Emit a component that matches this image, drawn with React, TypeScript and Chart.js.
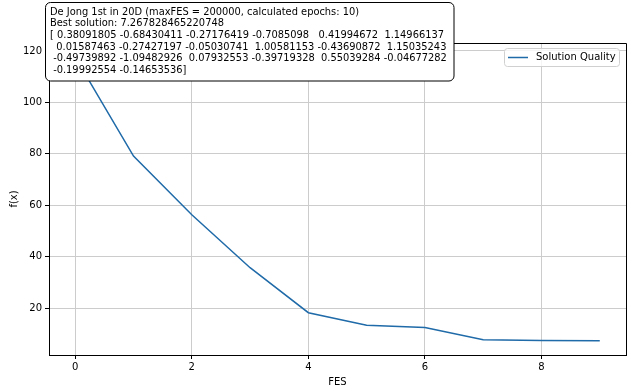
import React, { useEffect, useRef } from "react";
import { Chart, registerables } from "chart.js";

Chart.register(...registerables);

const fes = [0, 1, 2, 3, 4, 5, 6, 7, 8, 9];
const quality = [117.6, 79.1, 56.3, 35.7, 18.2, 13.3, 12.4, 7.7, 7.4, 7.267828465220748];
const xTicks = [0, 2, 4, 6, 8];
const yTicks = [20, 40, 60, 80, 100, 120];
const seriesLabel = "Solution Quality";
const xTitle = "FES";
const yTitle = "f(x)";
const infoLines = [
  "De Jong 1st in 20D (maxFES = 200000, calculated epochs: 10)",
  "Best solution: 7.267828465220748",
  "[ 0.38091805 -0.68430411 -0.27176419 -0.7085098   0.41994672  1.14966137",
  "  0.01587463 -0.27427197 -0.05030741  1.00581153 -0.43690872  1.15035243",
  " -0.49739892 -1.09482926  0.07932553 -0.39719328  0.55039284 -0.04677282",
  " -0.19992554 -0.14653536]",
];

const FONT = "DejaVu Sans";
const LINE_COLOR = "#1f6aa8";

function roundRect(ctx: CanvasRenderingContext2D, x: number, y: number, w: number, h: number, r: number) {
  ctx.beginPath();
  ctx.moveTo(x + r, y);
  ctx.lineTo(x + w - r, y);
  ctx.arcTo(x + w, y, x + w, y + r, r);
  ctx.lineTo(x + w, y + h - r);
  ctx.arcTo(x + w, y + h, x + w - r, y + h, r);
  ctx.lineTo(x + r, y + h);
  ctx.arcTo(x, y + h, x, y + h - r, r);
  ctx.lineTo(x, y + r);
  ctx.arcTo(x, y, x + r, y, r);
  ctx.closePath();
}

const decorPlugin = {
  id: "decor",
  afterDraw(chart: any) {
    const ctx: CanvasRenderingContext2D = chart.ctx;
    const { left, right, top, bottom } = chart.chartArea;
    ctx.save();
    // frame
    ctx.strokeStyle = "#000";
    ctx.lineWidth = 1;
    ctx.beginPath();
    ctx.moveTo(left, top + 0.5);
    ctx.lineTo(right + 0.5, top + 0.5);
    ctx.lineTo(right + 0.5, bottom);
    ctx.stroke();

    // legend
    const lx = right - 122;
    const ly = top + 5;
    roundRect(ctx, lx + 0.5, ly + 0.5, 115, 18, 3);
    ctx.fillStyle = "rgba(255,255,255,0.8)";
    ctx.fill();
    ctx.strokeStyle = "#d0d0d0";
    ctx.stroke();
    ctx.strokeStyle = LINE_COLOR;
    ctx.lineWidth = 1.5;
    ctx.beginPath();
    ctx.moveTo(lx + 4, ly + 9.5);
    ctx.lineTo(lx + 24, ly + 9.5);
    ctx.stroke();
    ctx.fillStyle = "#000";
    ctx.font = `10px "${FONT}"`;
    ctx.textBaseline = "middle";
    ctx.textAlign = "left";
    ctx.fillText(seriesLabel, lx + 32, ly + 9.5);

    // info box
    roundRect(ctx, 45.5, 2.5, 408.5, 78.5, 5);
    ctx.fillStyle = "#ffffff";
    ctx.fill();
    ctx.strokeStyle = "#000";
    ctx.lineWidth = 1;
    ctx.stroke();
    ctx.fillStyle = "#000";
    ctx.font = `9.87px "${FONT}"`;
    infoLines.forEach((line, i) => {
      ctx.fillText(line, 50, 12 + i * 11.67);
    });
    ctx.restore();
  },
};

export default function App() {
  const ref = useRef<HTMLCanvasElement | null>(null);
  useEffect(() => {
    document.body.style.margin = "0";
    const canvas = ref.current!;
    const chart = new Chart(canvas, {
      type: "line",
      data: {
        datasets: [
          {
            label: seriesLabel,
            data: fes.map((x, i) => ({ x, y: quality[i] })),
            borderColor: LINE_COLOR,
            borderWidth: 1.5,
            pointRadius: 0,
            tension: 0,
            fill: false,
          },
        ],
      },
      options: {
        animation: false,
        responsive: false,
        devicePixelRatio: 1,
        layout: { padding: { top: 43, right: 14, left: 0, bottom: 0 } },
        plugins: { legend: { display: false }, tooltip: { enabled: false } },
        scales: {
          x: {
            type: "linear",
            min: -0.45,
            max: 9.45,
            afterBuildTicks: (s: any) => {
              s.ticks = xTicks.map((v) => ({ value: v }));
            },
            afterFit: (s: any) => {
              s.height = 36;
            },
            grid: { color: "#cccccc", lineWidth: 1, tickColor: "#000", tickLength: 4 },
            border: { color: "#000", width: 1 },
            ticks: {
              color: "#000",
              font: { family: FONT, size: 10 },
              padding: 2,
              maxRotation: 0,
              callback: (v: any) => String(v),
            },
            title: {
              display: true,
              text: xTitle,
              color: "#000",
              font: { family: FONT, size: 10 },
              padding: { top: 3, bottom: 3 },
            },
          },
          y: {
            type: "linear",
            min: 1.75,
            max: 123.1,
            afterBuildTicks: (s: any) => {
              s.ticks = yTicks.map((v) => ({ value: v }));
            },
            afterFit: (s: any) => {
              s.width = 49;
            },
            grid: { color: "#cccccc", lineWidth: 1, tickColor: "#000", tickLength: 4 },
            border: { color: "#000", width: 1 },
            ticks: {
              color: "#000",
              font: { family: FONT, size: 10 },
              padding: 3,
              callback: (v: any) => String(v),
            },
            title: {
              display: true,
              text: yTitle,
              color: "#000",
              font: { family: FONT, size: 10 },
              padding: { top: 8, bottom: 8 },
            },
          },
        },
      },
      plugins: [decorPlugin],
    });
    return () => chart.destroy();
  }, []);
  return <canvas ref={ref} width={640} height={391} style={{ display: "block" }} />;
}
